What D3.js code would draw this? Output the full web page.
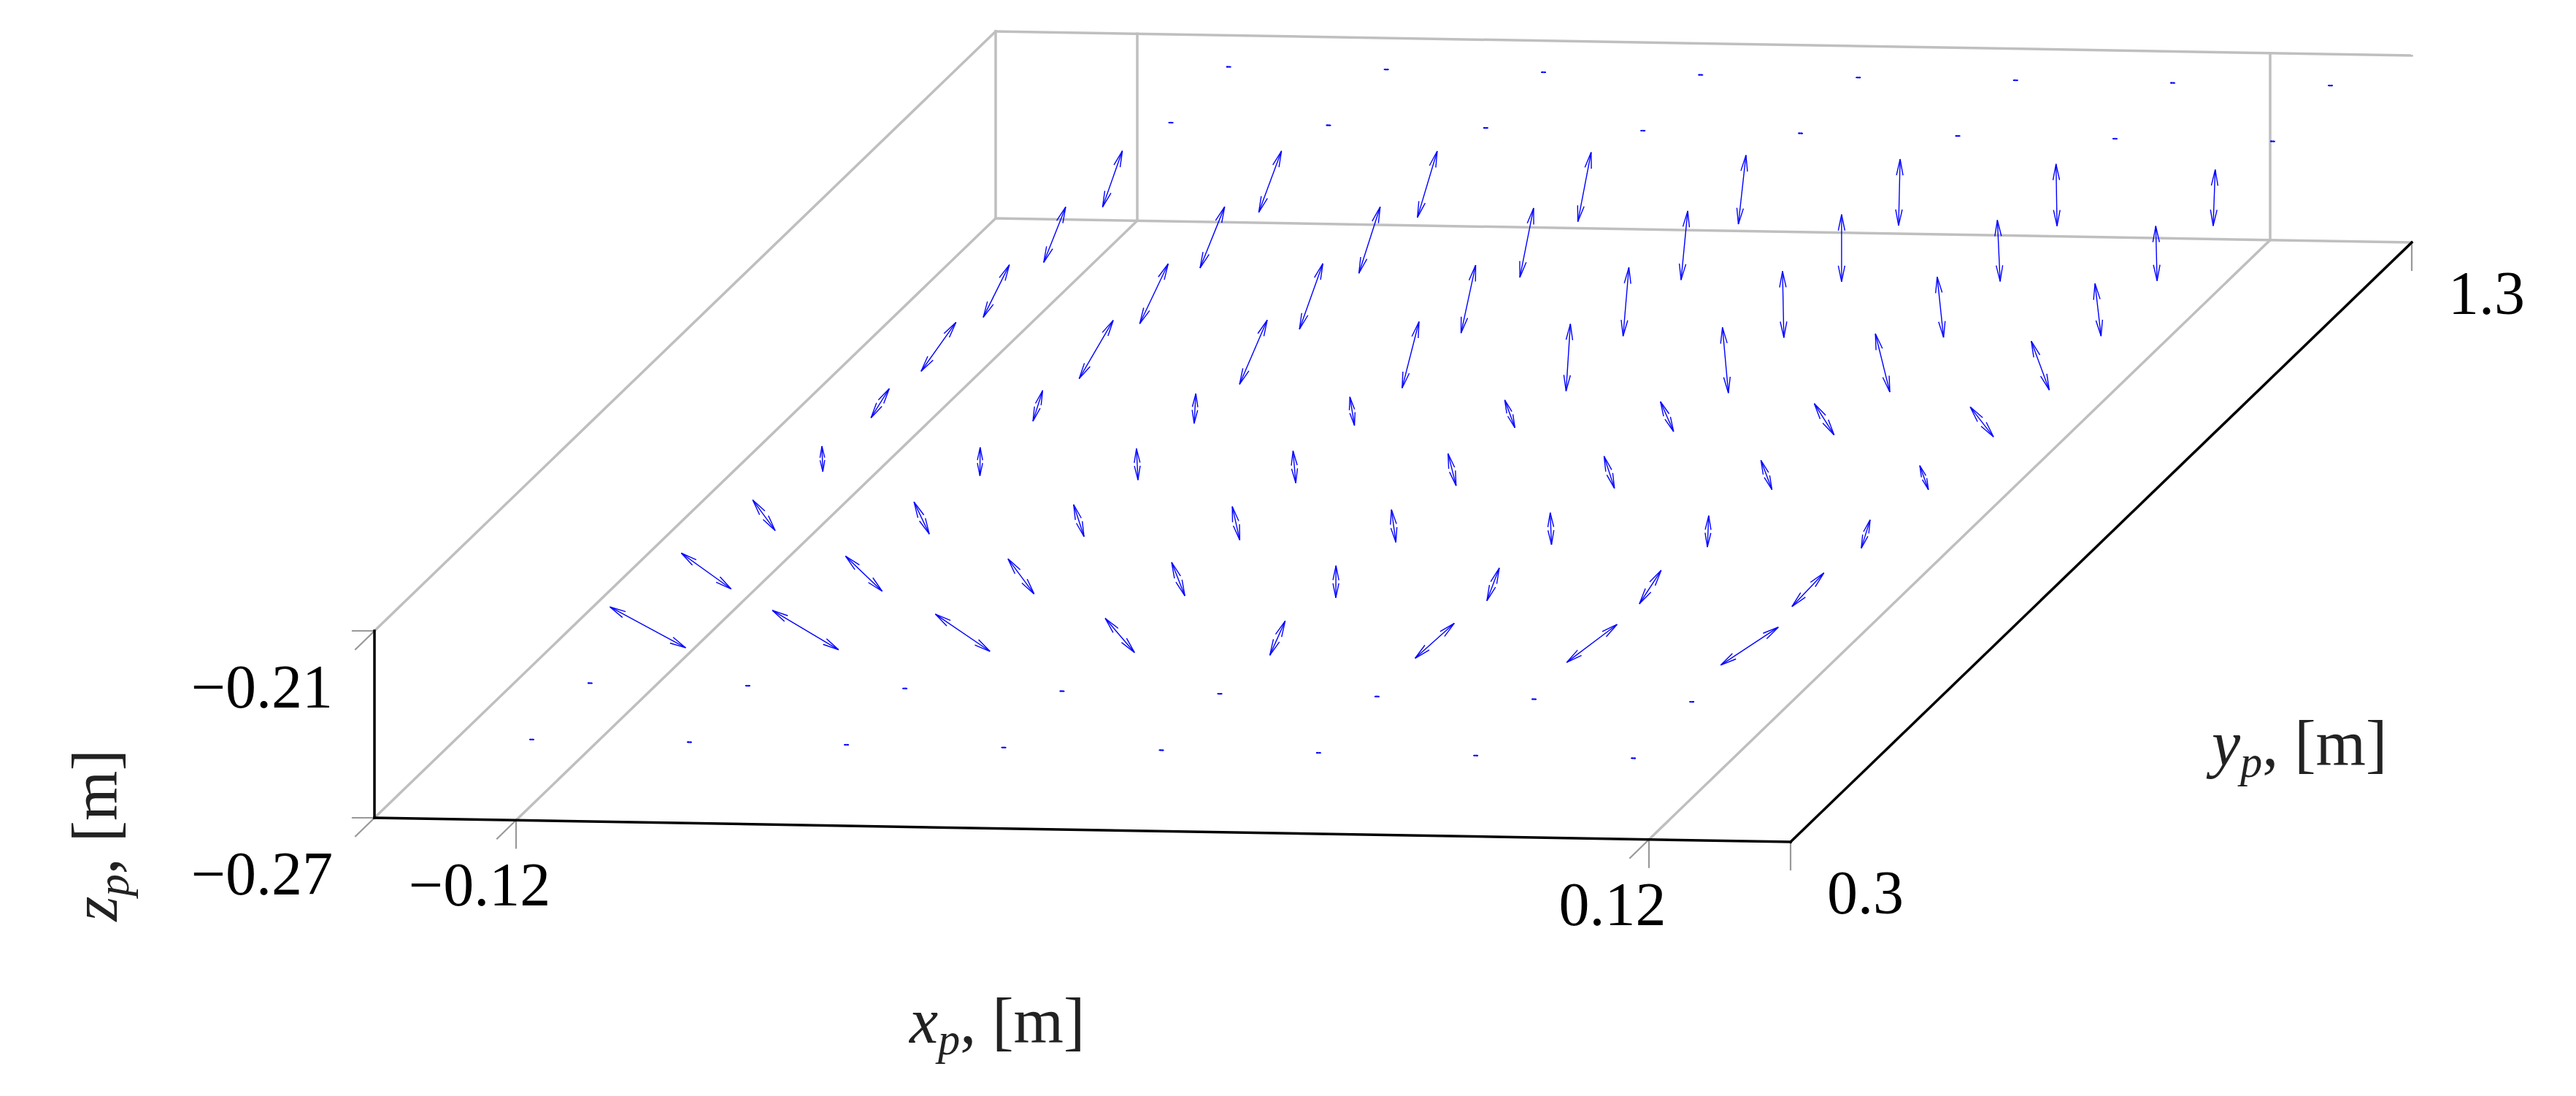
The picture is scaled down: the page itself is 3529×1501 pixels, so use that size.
<!DOCTYPE html>
<html>
<head>
<meta charset="utf-8">
<script src="https://cdn.jsdelivr.net/npm/d3@7"></script>
<style>
  html, body { margin: 0; padding: 0; background: #fff; }
  text { font-family: "Liberation Serif", "DejaVu Serif", serif; }
</style>
</head>
<body>
<svg id="chart" width="3529" height="1501"></svg>
<script>
// axis limits and ticks
const xLim = [-0.15, 0.15];
const yLim = [0.3, 1.3];
const zLim = [-0.27, -0.21];
const xTicks = [-0.12, 0.12];
const yTicks = [0.3, 1.3];
const zTicks = [-0.27, -0.21];

// grid of arrow anchors (all on the plane z = zLevel)
const xCols = [-0.1167, -0.0833, -0.05, -0.0167, 0.0167, 0.05, 0.0833, 0.1167];
const yRows = [0.300, 0.394, 0.487, 0.581, 0.674, 0.768, 0.861, 0.955, 1.048, 1.142, 1.235, 1.329, 1.422];
const zLevel = -0.244;

// vector components per row (front to back), one value per column
const uRows = [
  [0.001, 0.001, 0.001, 0.001, 0.001, 0.001, 0.001, 0.001],
  [0.001, 0.001, 0.001, 0.001, 0.001, 0.001, 0.001, 0.001],
  [-0.0246, -0.0223, -0.0194, -0.0135, -0.0042, 0.0006, 0.0023, 0.0038],
  [-0.0181, -0.0152, -0.0130, -0.0100, -0.0069, -0.0045, -0.0027, -0.0006],
  [-0.0113, -0.0101, -0.0091, -0.0088, -0.0080, -0.0072, -0.0065, -0.0043],
  [-0.0057, -0.0061, -0.0071, -0.0075, -0.0086, -0.0091, -0.0086, -0.0070],
  [-0.0025, -0.0046, -0.0061, -0.0071, -0.0081, -0.0092, -0.0109, -0.0113],
  [-0.0033, -0.0055, -0.0081, -0.0108, -0.0136, -0.0154, -0.0156, -0.0143],
  [-0.0059, -0.0070, -0.0093, -0.0116, -0.0136, -0.0146, -0.0144, -0.0126],
  [-0.0074, -0.0081, -0.0099, -0.0121, -0.0135, -0.0145, -0.0138, -0.0121],
  [-0.0080, -0.0085, -0.0102, -0.0122, -0.0133, -0.0140, -0.0136, -0.0117],
  [0.001, 0.001, 0.001, 0.001, 0.001, 0.001, 0.001, 0.001],
  [0.001, 0.001, 0.001, 0.001, 0.001, 0.001, 0.001, 0.001]
];
const vRows = [
  [0, 0, 0, 0, 0, 0, 0, 0],
  [0, 0, 0, 0, 0, 0, 0, 0],
  [0.0649, 0.0628, 0.0595, 0.0554, 0.0566, 0.0585, 0.0636, 0.0638],
  [0.0573, 0.0565, 0.0568, 0.0547, 0.0527, 0.0542, 0.0556, 0.0560],
  [0.0497, 0.0522, 0.0524, 0.0548, 0.0537, 0.0526, 0.0515, 0.0469],
  [0.0418, 0.0467, 0.0515, 0.0526, 0.0524, 0.0524, 0.0476, 0.0393],
  [0.0484, 0.0506, 0.0491, 0.0466, 0.0452, 0.0487, 0.0509, 0.0484],
  [0.0812, 0.0967, 0.1061, 0.1093, 0.1103, 0.1075, 0.0953, 0.0797],
  [0.0869, 0.0990, 0.1084, 0.1117, 0.1127, 0.1088, 0.0992, 0.0860],
  [0.0916, 0.1012, 0.1095, 0.1141, 0.1133, 0.1102, 0.1004, 0.0898],
  [0.0927, 0.1012, 0.1094, 0.1141, 0.1133, 0.1089, 0.1017, 0.0922],
  [0, 0, 0, 0, 0, 0, 0, 0],
  [0, 0, 0, 0, 0, 0, 0, 0]
];

const svg = d3.select("#chart");

// projection of the 3d box onto the page
const origin = [513, 1120];
const ex = [1940, 33];
const ey = [851, -821];
const ez = [0, -256];
const xs = d3.scaleLinear().domain(xLim).range([0, 1]);
const ys = d3.scaleLinear().domain(yLim).range([0, 1]);
const zs = d3.scaleLinear().domain(zLim).range([0, 1]);

function proj(x, y, z) {
  const a = xs(x), b = ys(y), c = zs(z);
  return [
    origin[0] + a * ex[0] + b * ey[0] + c * ez[0],
    origin[1] + a * ex[1] + b * ey[1] + c * ez[1]
  ];
}

function seg(g, p, q, color, width) {
  g.append("line")
    .attr("x1", p[0]).attr("y1", p[1])
    .attr("x2", q[0]).attr("y2", q[1])
    .attr("stroke", color)
    .attr("stroke-width", width)
    .attr("stroke-linecap", "square");
}

const [x0, x1] = xLim, [y0, y1] = yLim, [z0, z1] = zLim;

// grey box & grid
const grey = svg.append("g");
const gc = "#bfbfbf", gw = 3.5;
seg(grey, proj(x0, y1, z1), proj(x1, y1, z1), gc, gw);
seg(grey, proj(x0, y1, z0), proj(x1, y1, z0), gc, gw);
seg(grey, proj(x0, y1, z0), proj(x0, y1, z1), gc, gw);
seg(grey, proj(x0, y0, z1), proj(x0, y1, z1), gc, gw);
seg(grey, proj(x0, y0, z0), proj(x0, y1, z0), gc, gw);
xTicks.forEach((t) => {
  seg(grey, proj(t, y0, z0), proj(t, y1, z0), gc, gw);
  seg(grey, proj(t, y1, z0), proj(t, y1, z1), gc, gw);
});

// tick marks
const ticks = svg.append("g");
const tc = "#999999", tw = 2.2;
const diag = [-0.72, 0.7];
function off(p, d, len) { return [p[0] + d[0] * len, p[1] + d[1] * len]; }
xTicks.forEach((t) => {
  const p = proj(t, y0, z0);
  seg(ticks, p, off(p, [0, 1], 38), tc, tw);
  seg(ticks, p, off(p, diag, 36), tc, tw);
});
zTicks.forEach((t) => {
  const p = proj(x0, y0, t);
  seg(ticks, p, off(p, [-1, 0], 30), tc, tw);
  seg(ticks, p, off(p, diag, 36), tc, tw);
});
yTicks.forEach((t) => {
  const p = proj(x1, t, z0);
  seg(ticks, p, off(p, [0, 1], 38), tc, tw);
});

// arrows
const arrows = svg.append("g").attr("stroke", "#0000ff").attr("fill", "none")
  .attr("stroke-width", 1.4);
const headLen = 22, headW = 4.5;
function head(g, tip, dir) {
  const n = [-dir[1], dir[0]];
  const hl = Math.min(headLen, dir.len * 0.45);
  const b = [tip[0] - dir[0] * hl, tip[1] - dir[1] * hl];
  const hw = headW * hl / headLen;
  g.append("path").attr("d", d3.line()([
    [b[0] + n[0] * hw, b[1] + n[1] * hw], tip, [b[0] - n[0] * hw, b[1] - n[1] * hw]
  ]));
}
yRows.forEach((y, j) => {
  xCols.forEach((x, i) => {
    const u = uRows[j][i] / 2, v = vRows[j][i] / 2;
    const p = proj(x - u, y - v, zLevel);
    const q = proj(x + u, y + v, zLevel);
    const dx = q[0] - p[0], dy = q[1] - p[1];
    const len = Math.hypot(dx, dy);
    if (len < 0.5) return;
    arrows.append("line").attr("x1", p[0]).attr("y1", p[1]).attr("x2", q[0]).attr("y2", q[1]);
    const d = [dx / len, dy / len]; d.len = len;
    const dm = [-d[0], -d[1]]; dm.len = len;
    head(arrows, q, d);
    head(arrows, p, dm);
  });
});

// black axes
const axes = svg.append("g");
seg(axes, proj(x0, y0, z0), proj(x0, y0, z1), "#000", 3.5);
seg(axes, proj(x0, y0, z0), proj(x1, y0, z0), "#000", 3.5);
seg(axes, proj(x1, y0, z0), proj(x1, y1, z0), "#000", 3.5);

// tick labels
const fmt = (v) => (v < 0 ? "\u2212" + Math.abs(v) : String(v));
const fs = 84;
const lab = svg.append("g").attr("font-size", fs).attr("fill", "#000");
zTicks.forEach((t) => {
  const p = proj(x0, y0, t);
  lab.append("text").attr("x", p[0] - 57).attr("y", p[1] + 105)
    .attr("text-anchor", "end").text(fmt(t));
});
xTicks.forEach((t) => {
  const p = proj(t, y0, z0);
  lab.append("text").attr("x", p[0] - 50).attr("y", p[1] + 117)
    .attr("text-anchor", "middle").text(fmt(t));
});
yTicks.forEach((t) => {
  const p = proj(x1, t, z0);
  lab.append("text").attr("x", p[0] + 50).attr("y", p[1] + 98)
    .attr("text-anchor", "start").text(fmt(t));
});

// axis titles
function title(g, sym) {
  g.append("tspan").attr("font-style", "italic").text(sym);
  g.append("tspan").attr("font-style", "italic").attr("font-size", fs * 0.72)
    .attr("dy", 16).text("p");
  g.append("tspan").attr("dy", -16).text(", [m]");
}
const tcol = "#222";
const tfs = 88;
title(svg.append("text").attr("x", 1246).attr("y", 1428).attr("font-size", tfs)
  .attr("fill", tcol), "x");
title(svg.append("text").attr("x", 3030).attr("y", 1048).attr("font-size", tfs)
  .attr("fill", tcol), "y");
title(svg.append("text").attr("transform", "translate(160,1144) rotate(-90)")
  .attr("text-anchor", "middle").attr("font-size", tfs).attr("fill", tcol), "z");
</script>
</body>
</html>
